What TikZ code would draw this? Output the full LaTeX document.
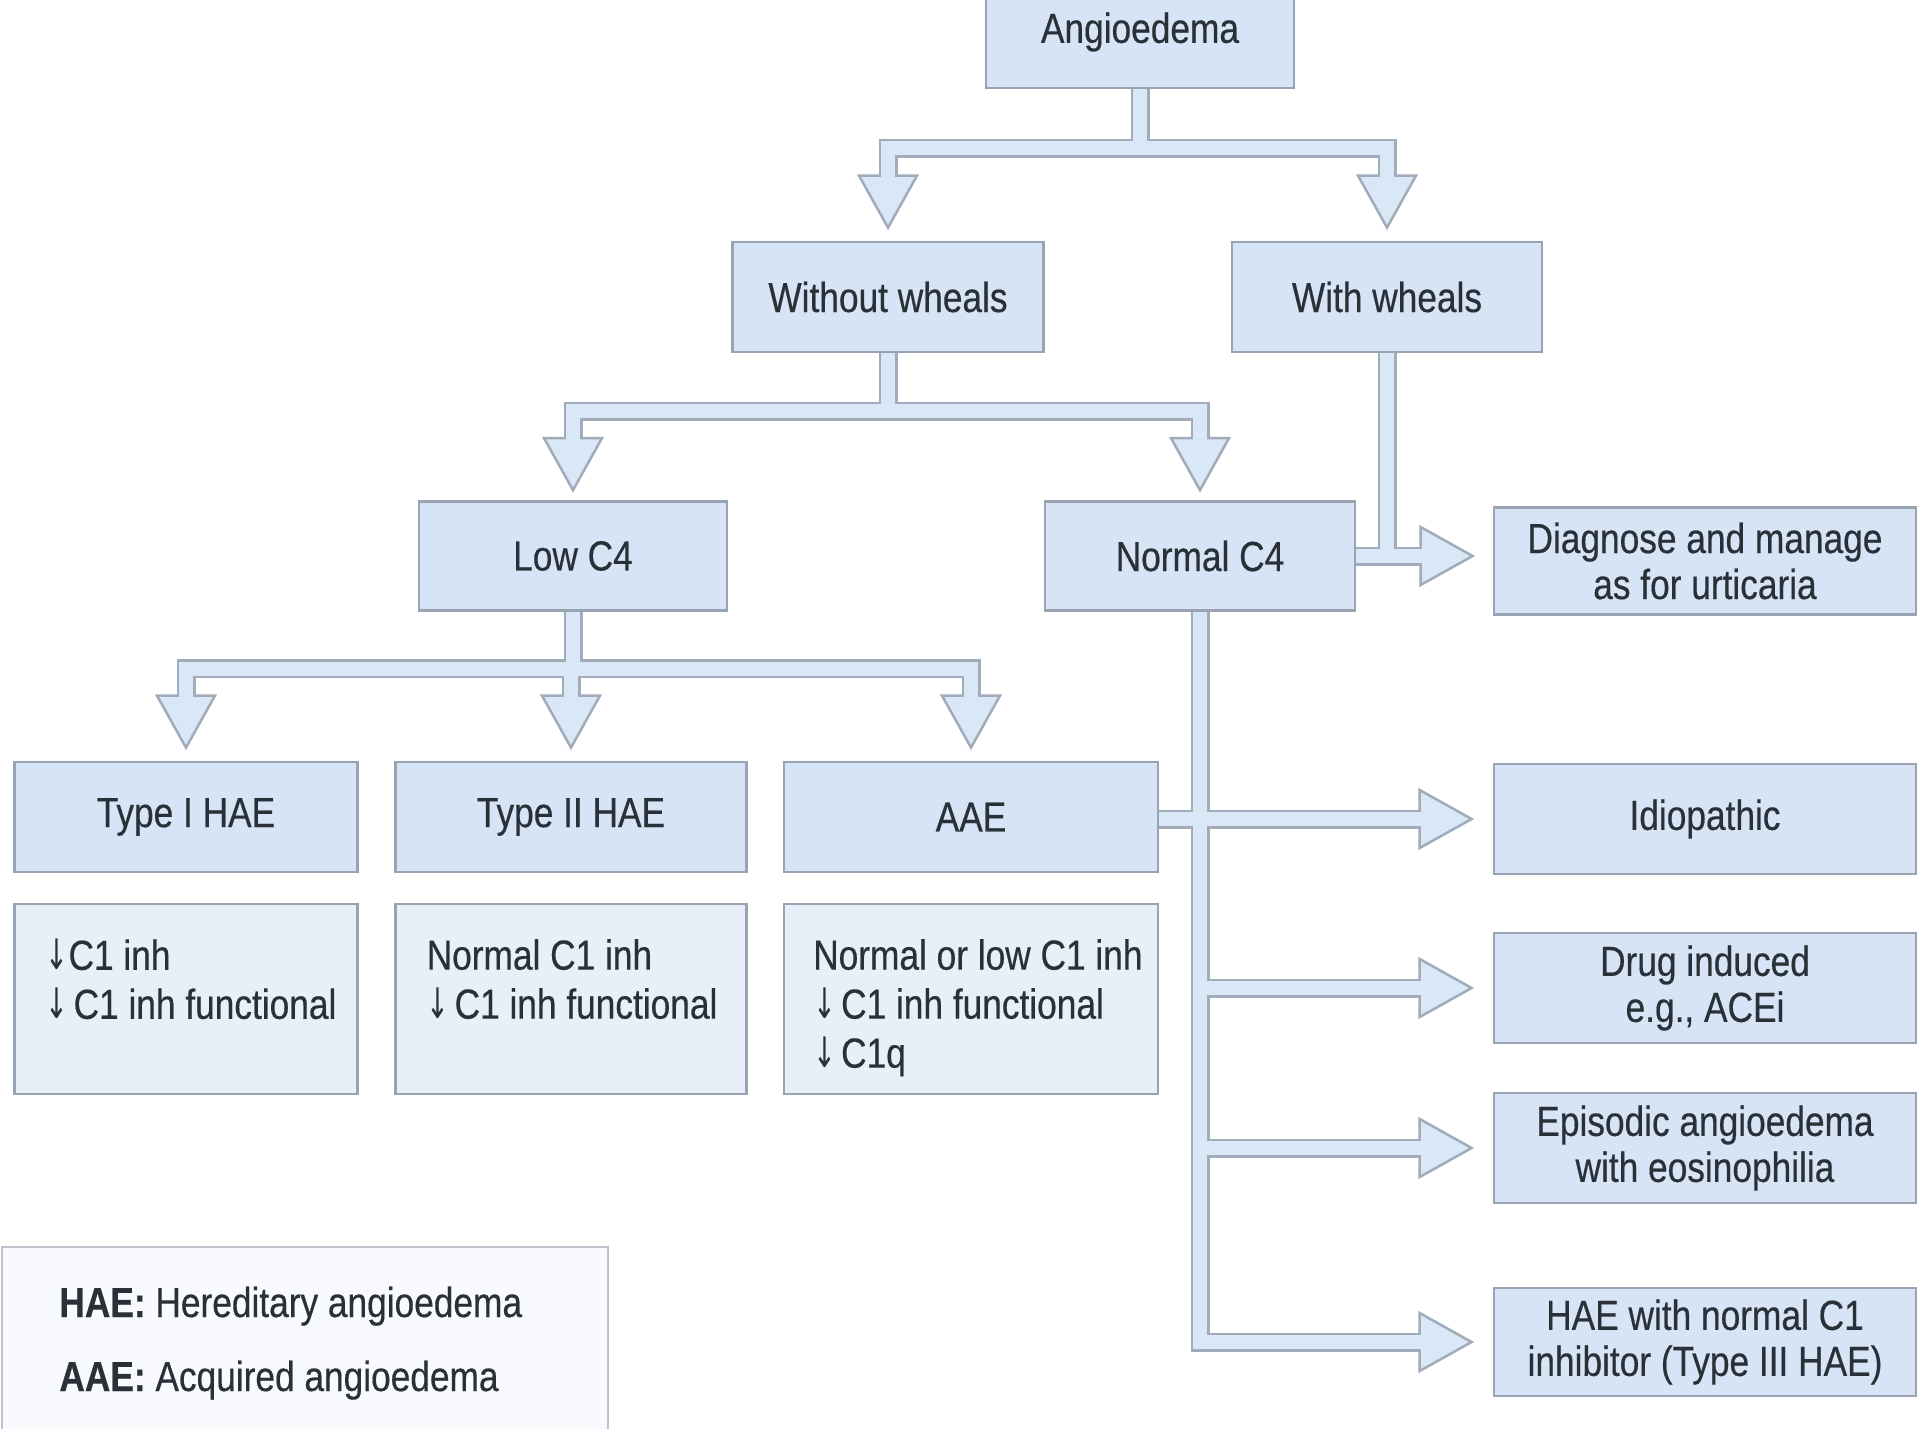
\documentclass[tikz,border=0pt]{standalone}
\usepackage{fontspec}
\setmainfont{Liberation Sans}[FakeStretch=0.84, FakeBold=0.4]
\newfontfamily\arrowfont{DejaVu Sans}[FakeStretch=0.65]
\newcommand{\downarr}{{\arrowfont ↓}}
\newcommand{\arrsp}{\hspace{0.12em}}
\usetikzlibrary{calc,backgrounds}
\definecolor{boxfill}{HTML}{D6E4F5}
\definecolor{boxline}{HTML}{98A4B3}
\definecolor{detfill}{HTML}{E8EFF9}
\definecolor{legfill}{HTML}{F8FAFD}
\definecolor{legline}{HTML}{BCC3CB}
\definecolor{bandfill}{HTML}{DAE7F6}
\definecolor{bandline}{HTML}{A0ACBA}
\definecolor{txt}{HTML}{2A3038}
\begin{document}
\begin{tikzpicture}[x=0.5pt,y=-0.5pt,
  every node/.style={text=txt, font=\fontsize{21pt}{23pt}\selectfont},
  sz/.style 2 args={minimum width={#1*0.5pt}, minimum height={#2*0.5pt}},
  box/.style={draw=boxline, fill=boxfill, line width=1.4pt, inner sep=0pt, align=center},
  detbox/.style={draw=boxline, fill=detfill, line width=1.2pt, inner sep=0pt},
  dettxt/.style={anchor=north west, align=left, inner sep=0pt, font=\fontsize{21pt}{24.5pt}\selectfont},
  legtxt/.style={anchor=base west, inner sep=0pt},
  bandout/.style={draw=bandline, line width=9.5pt, line cap=rect},
  bandin/.style={draw=bandfill, line width=7pt, line cap=rect},
  headstyle/.style={fill=bandfill, draw=bandline, line width=1.25pt, line join=miter},
  headdown/.pic={\filldraw[headstyle] (0,0) -- (-29,-52) -- (29,-52) -- cycle;},
  headright/.pic={\filldraw[headstyle] (0,0) -- (-52,-29) -- (-52,29) -- cycle;},
]
\useasboundingbox (0,0) rectangle (1920,1428);
\clip (0,0) rectangle (1920,1428);

% boxes
\node[box, sz={308}{112}] (ang) at (1140,32) {Angioedema};
\node[box, sz={311}{110}] (wo) at (888,297) {Without wheals};
\node[box, sz={310}{110}] (wi) at (1387,297) {With wheals};
\node[box, sz={308}{109}] (low) at (573,556) {Low C4};
\node[box, sz={310}{109}] (nor) at (1200,556) {Normal C4};
\node[box, sz={422}{107}] (diag) at (1705,561) {Diagnose and manage\\as for urticaria};
\node[box, sz={343}{110}] (t1) at (186,817) {Type I HAE};
\node[box, sz={351}{110}] (t2) at (571,817) {Type II HAE};
\node[box, sz={374}{110}] (aae) at (971,817) {AAE};
\node[detbox, sz={343}{190}] (d1) at (186,999) {};
\node[detbox, sz={351}{190}] (d2) at (571,999) {};
\node[detbox, sz={374}{190}] (d3) at (971,999) {};
\node[dettxt] (d1t) at ($(d1.north west)+(32,36)$) {\downarr C1 inh\\\downarr\arrsp C1 inh functional};
\node[dettxt] (d2t) at ($(d2.north west)+(32,36)$) {Normal C1 inh\\\downarr\arrsp C1 inh functional};
\node[dettxt] (d3t) at ($(d3.north west)+(30,36)$) {Normal or low C1 inh\\\downarr\arrsp C1 inh functional\\\downarr\arrsp C1q};
\node[box, sz={422}{110}] (idio) at (1705,819) {Idiopathic};
\node[box, sz={422}{110}] (drug) at (1705,988) {Drug induced\\e.g., ACEi};
\node[box, sz={422}{110}] (epi) at (1705,1148) {Episodic angioedema\\with eosinophilia};
\node[box, sz={422}{108}] (hae3) at (1705,1342) {HAE with normal C1\\inhibitor (Type III HAE)};
\node[draw=legline, fill=legfill, line width=1.2pt, inner sep=0pt, sz={606}{200}] (leg) at (305,1347) {};
\node[legtxt] (leg1) at (59,1317) {\textbf{HAE:} Hereditary angioedema};
\node[legtxt] (leg2) at (59,1391) {\textbf{AAE:} Acquired angioedema};

% connector coordinates
\coordinate (b1) at ($(ang.south)+(0,59)$);
\coordinate (wo-tip) at ($(wo.north)+(0,-13)$);
\coordinate (wi-tip) at ($(wi.north)+(0,-13)$);
\coordinate (b2) at ($(wo.south)+(0,58)$);
\coordinate (low-tip) at ($(low.north)+(0,-10)$);
\coordinate (nor-tip) at ($(nor.north)+(0,-10)$);
\coordinate (b3) at ($(low.south)+(0,57)$);
\coordinate (t1-tip) at ($(t1.north)+(0,-13)$);
\coordinate (t2-tip) at ($(t2.north)+(0,-13)$);
\coordinate (aae-tip) at ($(aae.north)+(0,-13)$);
\coordinate (diag-tip) at ($(nor.east -| diag.west)+(-20,0)$);
\coordinate (idio-tip) at ($(idio.west)+(-21,0)$);
\coordinate (drug-tip) at ($(drug.west)+(-21,0)$);
\coordinate (epi-tip) at ($(epi.west)+(-21,0)$);
\coordinate (hae3-tip) at ($(hae3.west)+(-21,0)$);

\def\bands{
 (ang.south) -- (b1)
 (b1 -| wo) -- (b1 -| wi)
 (b1 -| wo) -- ($(wo-tip)+(0,-52)$)
 (b1 -| wi) -- ($(wi-tip)+(0,-52)$)
 (wo.south) -- (b2)
 (b2 -| low) -- (b2 -| nor)
 (b2 -| low) -- ($(low-tip)+(0,-52)$)
 (b2 -| nor) -- ($(nor-tip)+(0,-52)$)
 (low.south) -- (b3)
 (b3 -| t1) -- (b3 -| aae)
 (b3 -| t1) -- ($(t1-tip)+(0,-52)$)
 (b3 -| t2) -- ($(t2-tip)+(0,-52)$)
 (b3 -| aae) -- ($(aae-tip)+(0,-52)$)
 (wi.south) -- (wi.south |- nor.east)
 (nor.east) -- ($(diag-tip)+(-52,0)$)
 (nor.south) -- (nor.south |- hae3-tip)
 (nor.south |- hae3-tip) -- ($(hae3-tip)+(-52,0)$)
 (aae.east |- idio-tip) -- ($(idio-tip)+(-52,0)$)
 (nor.south |- drug-tip) -- ($(drug-tip)+(-52,0)$)
 (nor.south |- epi-tip) -- ($(epi-tip)+(-52,0)$)
}

\begin{scope}[on background layer]
 \fill[white] (0,0) rectangle (1920,1428);
 \draw[bandout] \bands;
 \pic at (wo-tip) {headdown};
 \pic at (wi-tip) {headdown};
 \pic at (low-tip) {headdown};
 \pic at (nor-tip) {headdown};
 \pic at (t1-tip) {headdown};
 \pic at (t2-tip) {headdown};
 \pic at (aae-tip) {headdown};
 \pic at (diag-tip) {headright};
 \pic at (idio-tip) {headright};
 \pic at (drug-tip) {headright};
 \pic at (epi-tip) {headright};
 \pic at (hae3-tip) {headright};
 \draw[bandin] \bands;
\end{scope}
\end{tikzpicture}
\end{document}
